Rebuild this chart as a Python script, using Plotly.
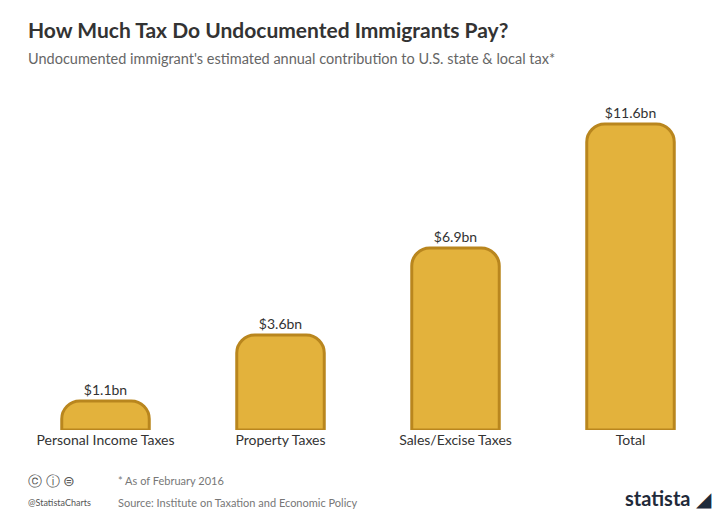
import plotly.graph_objects as go

categories = ["Personal Income Taxes", "Property Taxes", "Sales/Excise Taxes", "Total"]
values = [1.1, 3.6, 6.9, 11.6]
labels = ["$1.1bn", "$3.6bn", "$6.9bn", "$11.6bn"]

def py(p):  # pixel y -> paper y (plot area 110..422)
    return (422 - p) / 312

def px(p):  # pixel x -> paper x (plot area 10..710)
    return (p - 10) / 700

fig = go.Figure(go.Bar(
    x=categories, y=values, text=labels, textposition="outside",
    textfont=dict(size=14, color="#333333", family="Lato"),
    marker=dict(color="#E3B23C", line=dict(color="#B9861E", width=3), cornerradius=18),
    width=0.5, cliponaxis=False,
))
ann = dict(xref="paper", yref="paper", xanchor="left", yanchor="middle", showarrow=False)
fig.update_layout(
    width=720, height=512, paper_bgcolor="#ffffff", plot_bgcolor="#ffffff",
    margin=dict(l=10, r=10, t=110, b=90),
    font=dict(family="Lato", color="#333333"),
    showlegend=False,
    xaxis=dict(tickfont=dict(size=14, color="#333333"), showline=False, ticks=""),
    yaxis=dict(visible=False, range=[0, 11.6 * 1.02]),
    annotations=[
        dict(ann, text="<b>How Much Tax Do Undocumented Immigrants Pay?</b>", x=px(18), y=py(22),
             font=dict(size=21, color="#333333")),
        dict(ann, text="Undocumented immigrant's estimated annual contribution to U.S. state & local tax*",
             x=px(18), y=py(50), font=dict(size=14.5, color="#666666")),
        dict(ann, text="* As of February 2016", x=px(108), y=py(472), font=dict(size=11, color="#777777")),
        dict(ann, text="Source: Institute on Taxation and Economic Policy", x=px(108), y=py(494),
             font=dict(size=11, color="#777777")),
        dict(ann, text="ⓒ ⓘ ⊜", x=px(18), y=py(472), font=dict(size=14, color="#555555")),
        dict(ann, text="@StatistaCharts", x=px(18), y=py(494), font=dict(size=9, color="#555555")),
        dict(ann, text="<b>statista</b> ◢", x=px(706), y=py(490), xanchor="right",
             font=dict(size=20, color="#1f2a3a")),
    ],
)
fig.write_html("out.html")
